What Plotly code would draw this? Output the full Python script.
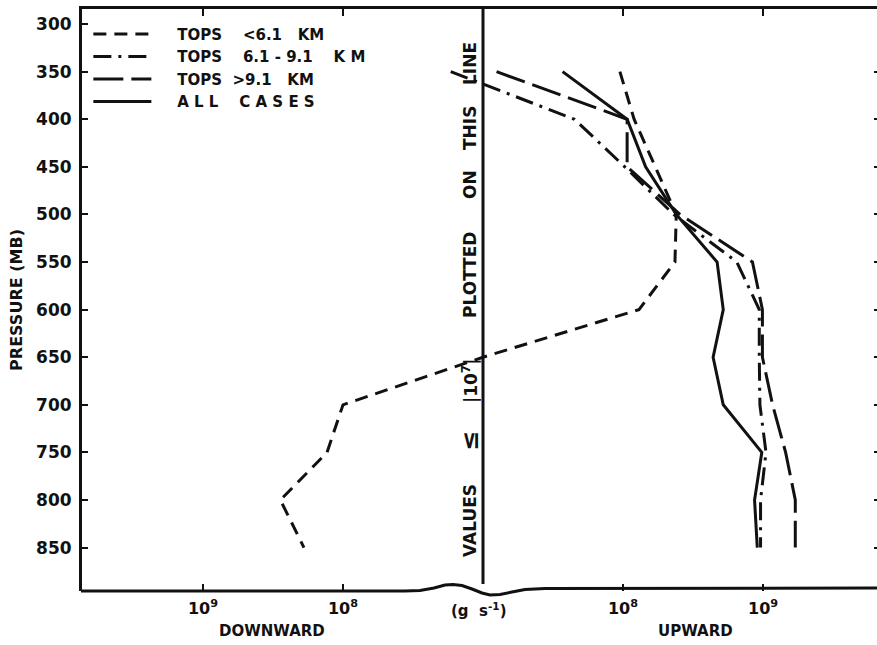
import numpy as np
import plotly.graph_objects as go

# Pressure levels (mb)
pressure = [350, 400, 450, 500, 550, 600, 650, 700, 750, 800, 850]

# Mass flux (g s^-1): positive = upward, negative = downward, 0 = |value| <= 1e7
tops_low = [9.5e7, 1.2e8, 1.7e8, 2.4e8, 2.35e8, 1.3e8, 0, -1.0e8, -1.3e8, -2.8e8, -1.9e8]
tops_mid = [-1.7e7, 4.5e7, 1.03e8, 2.3e8, 6.5e8, 9.4e8, 9.4e8, 9.5e8, 1.05e9, 9.6e8, 9.6e8]
tops_high = [1.25e7, 1.07e8, 1.07e8, 2.55e8, 8.4e8, 9.9e8, 9.9e8, 1.17e9, 1.45e9, 1.7e9, 1.7e9]
all_cases = [3.7e7, 1.07e8, 1.45e8, 2.4e8, 4.7e8, 5.2e8, 4.4e8, 5.2e8, 9.8e8, 8.7e8, 9.1e8]

NB = "\u00a0"
series_names = [
    NB * 4 + "TOPS" + NB * 4 + "&lt;6.1" + NB * 3 + "KM",
    NB * 4 + "TOPS" + NB * 4 + "6.1" + NB + "-" + NB + "9.1" + NB * 4 + "K" + NB + "M",
    NB * 4 + "TOPS" + NB * 2 + "&gt;9.1" + NB * 3 + "KM",
    NB * 4 + "A" + NB + "L" + NB + "L" + NB * 4 + "C" + NB + "A" + NB + "S" + NB + "E" + NB + "S",
]
series_dash = ["13px,8px", "18px,7px,3px,7px", "30px,8px", "solid"]

x_tickvals_flux = [-1e9, -1e8, 1e8, 1e9]
x_ticktext = ["10<sup>9</sup>", "10<sup>8</sup>", "10<sup>8</sup>", "10<sup>9</sup>"]
y_tickvals = [300, 350, 400, 450, 500, 550, 600, 650, 700, 750, 800, 850]

FLOOR = 1e7  # values at or below this magnitude sit on the centre line


def sym(v):
    """Two-sided log scale: decades above 1e7, sign gives direction."""
    v = np.asarray(v, dtype=float)
    mag = np.abs(v)
    out = np.where(mag > FLOOR, np.log10(np.maximum(mag, FLOOR)) - np.log10(FLOOR), 0.0)
    return np.sign(v) * out


W, H = 877, 645
ML, MT, MR, MB = 82, 9, 0, 54
PW, PH = W - ML - MR, H - MT - MB
XR = [-2.864, 2.814]
YR = [895.6, 284.2]
FONT = "DejaVu Sans"
INK = "#111111"

fig = go.Figure()
for vals, name, dash in zip([tops_low, tops_mid, tops_high, all_cases], series_names, series_dash):
    fig.add_trace(go.Scatter(
        x=sym(vals), y=pressure, mode="lines", name=name,
        line=dict(color=INK, width=3, dash=dash),
    ))


def paper_x(px):
    return (px - ML) / PW


def paper_y(py):
    return (H - MB - py) / PH


# bottom axis with the wavy break under the centre line
wave_px = [(81, 591), (405, 591), (420, 590.5), (434, 588), (445, 585), (453, 584.5),
           (462, 585.5), (472, 589), (482, 593), (490, 595), (500, 594.5), (512, 592),
           (525, 589.5), (545, 588.5), (877, 588)]
path = "M " + " L ".join(f"{paper_x(a):.5f},{paper_y(b):.5f}" for a, b in wave_px)
fig.add_shape(type="path", path=path, xref="paper", yref="paper",
              line=dict(color=INK, width=3), layer="above")

# centre line (|flux| <= 1e7)
fig.add_shape(type="line", x0=0, x1=0, xref="x", y0=1, y1=paper_y(584), yref="paper",
              line=dict(color=INK, width=3))

# label running up the centre line
centre_words = [("VALUES", 521, 17), ("\u2264", 441, 24), ("|10<sup>7</sup>|", 381, 17),
                ("PLOTTED", 275, 17), ("ON", 185, 17), ("THIS", 128, 17), ("LINE", 64, 17)]
for word, py, fs in centre_words:
    fig.add_annotation(x=0, y=paper_y(py), xref="x", yref="paper", text=f"<b>{word}</b>",
                       textangle=-90, showarrow=False, xshift=-13, yanchor="middle",
                       font=dict(family=FONT, size=fs, color=INK))

# axis captions below the plot
for txt, px, py in [("DOWNWARD", 272, 631), ("(g\u00a0\u00a0s<sup>-1</sup>)", 479, 610),
                    ("UPWARD", 695, 631)]:
    fig.add_annotation(x=paper_x(px), y=paper_y(py), xref="paper", yref="paper",
                       xanchor="center", yanchor="middle",
                       text=f"<b>{txt}</b>", showarrow=False,
                       font=dict(family=FONT, size=15, color=INK))

fig.update_layout(
    width=W, height=H,
    margin=dict(l=ML, r=MR, t=MT, b=MB, pad=0),
    paper_bgcolor="white", plot_bgcolor="white",
    font=dict(family=FONT, color=INK),
    showlegend=True,
    legend=dict(x=0.008, y=0.985, xanchor="left", yanchor="top",
                bgcolor="rgba(0,0,0,0)", font=dict(family=FONT, size=15, color=INK, weight="bold"),
                tracegroupgap=0, itemwidth=58),
    xaxis=dict(range=XR, showgrid=False, zeroline=False, showline=False,
               tickmode="array", tickvals=list(sym(x_tickvals_flux)), ticktext=x_ticktext,
               ticks="inside", ticklen=7, tickwidth=2, tickcolor=INK,
               tickfont=dict(family=FONT, size=16, color=INK, weight="bold"), ticklabelstandoff=6),
    xaxis2=dict(range=XR, overlaying="x", side="top", showgrid=False, zeroline=False,
                showline=True, linewidth=3, linecolor=INK,
                tickmode="array", tickvals=list(sym(x_tickvals_flux)), showticklabels=False,
                ticks="inside", ticklen=7, tickwidth=2, tickcolor=INK),
    yaxis=dict(range=YR, showgrid=False, zeroline=False, showline=True, linewidth=3,
               linecolor=INK, tickmode="array", tickvals=y_tickvals,
               ticks="inside", ticklen=6, tickwidth=2, tickcolor=INK,
               tickfont=dict(family=FONT, size=17, color=INK, weight="bold"),
               ticklabelstandoff=4,
               title=dict(text="<b>PRESSURE (MB)</b>", standoff=10,
                          font=dict(family=FONT, size=16, color=INK))),
    yaxis2=dict(range=YR, overlaying="y", side="right", showgrid=False, zeroline=False,
                showline=False, tickmode="array", tickvals=y_tickvals[1:],
                showticklabels=False, ticks="inside", ticklen=3, tickwidth=2, tickcolor=INK),
)
# empty traces on the top and right axes so their line and ticks are drawn
fig.add_trace(go.Scatter(x=[None], y=[None], xaxis="x2", showlegend=False))
fig.add_trace(go.Scatter(x=[None], y=[None], yaxis="y2", showlegend=False))

fig.write_html("out.html")
